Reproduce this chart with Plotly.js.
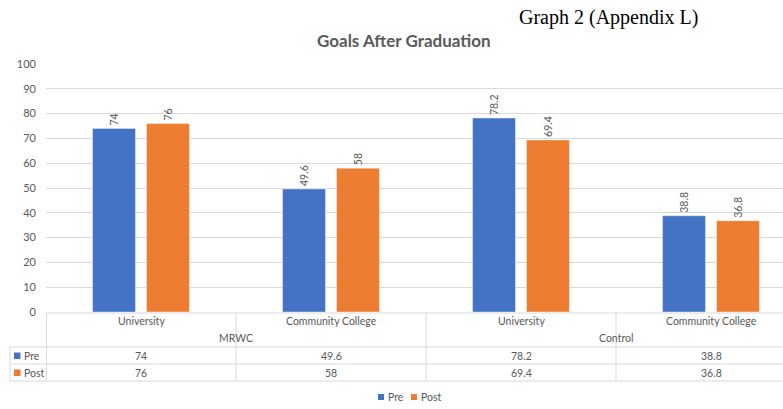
<!DOCTYPE html>
<html>
<head>
<meta charset="utf-8">
<script src="https://cdn.plot.ly/plotly-3.0.1.min.js"></script>
<style>html,body{margin:0;padding:0;background:#fff;}#chart{width:783px;height:409px;}</style>
</head>
<body>
<div id="chart"></div>
<script>
const categories = ["University", "Community College", "University", "Community College"];
const groups = ["MRWC", "Control"];
const preValues = [74, 49.6, 78.2, 38.8];
const postValues = [76, 58, 69.4, 36.8];
const seriesNames = ["Pre", "Post"];
const yTicks = [0, 10, 20, 30, 40, 50, 60, 70, 80, 90, 100];

const BLUE = "#4472c4", ORANGE = "#ed7d31", GREY = "#595959", LINE = "#d9d9d9";
const FONT = "Lato, 'Open Sans', sans-serif";
const COLORS = [BLUE, ORANGE];
const idx = categories.map((c, i) => i);

// pixel helpers (plot area: x 46..783, y 64..312)
const L = 46, W = 737;
const py = p => (312 - p) / 248;
const px = p => (p - L) / W;

const traces = [preValues, postValues].map((vals, k) => ({
  type: "bar", name: seriesNames[k], x: idx, y: vals,
  marker: {color: COLORS[k], line: {color: "rgba(255,255,255,0.5)", width: 0.8}},
  text: vals.map(String), textposition: "outside", textangle: -90,
  outsidetextfont: {family: FONT, size: 10.5, color: GREY}, cliponaxis: false, showlegend: false
}));

const annotations = [];
const shapes = [];
const cellFont = {family: FONT, size: 10.5, color: GREY};

// category row
categories.forEach((c, i) => annotations.push({xref: "x", yref: "paper", x: i, y: py(321), text: c,
  showarrow: false, font: cellFont, xanchor: "center", yanchor: "middle"}));
// group row
groups.forEach((g, j) => annotations.push({xref: "x", yref: "paper", x: j * 2 + 0.5, y: py(338), text: g,
  showarrow: false, font: cellFont, xanchor: "center", yanchor: "middle"}));
// value rows
[preValues, postValues].forEach((vals, r) => {
  const yy = r === 0 ? py(355.5) : py(372.5);
  vals.forEach((v, i) => annotations.push({xref: "x", yref: "paper", x: i, y: yy, text: String(v),
    showarrow: false, font: cellFont, xanchor: "center", yanchor: "middle"}));
  annotations.push({xref: "paper", yref: "paper", x: px(22), y: yy, text: seriesNames[r],
    showarrow: false, font: cellFont, xanchor: "left", yanchor: "middle"});
  shapes.push({type: "rect", xref: "paper", yref: "paper", x0: px(14), x1: px(20.5),
    y0: yy - 3.5 / 248, y1: yy + 3 / 248, fillcolor: COLORS[r], line: {width: 0}});
});

// table lines
const hl = (p, x0, x1) => shapes.push({type: "line", xref: "paper", yref: "paper", x0: px(x0), x1: px(x1),
  y0: py(p), y1: py(p), line: {color: LINE, width: 1}});
hl(313, 46, 783); hl(347, 10, 783); hl(364, 10, 783); hl(381, 10, 783);
shapes.push({type: "line", xref: "paper", yref: "paper", x0: px(10), x1: px(10), y0: py(347), y1: py(381), line: {color: LINE, width: 1}});
shapes.push({type: "line", xref: "paper", yref: "paper", x0: px(46.5), x1: px(46.5), y0: py(313), y1: py(381), line: {color: LINE, width: 1}});
[0.5, 1.5, 2.5].forEach(b => shapes.push({type: "line", xref: "x", yref: "paper", x0: b, x1: b,
  y0: py(313), y1: py(381), line: {color: LINE, width: 1}}));

// bottom legend (drawn manually to match compact Excel style)
const legendX = [378, 411];
seriesNames.forEach((n, k) => {
  shapes.push({type: "rect", xref: "paper", yref: "paper", x0: px(legendX[k]), x1: px(legendX[k] + 6),
    y0: py(400), y1: py(394), fillcolor: COLORS[k], line: {width: 0}});
  annotations.push({xref: "paper", yref: "paper", x: px(legendX[k] + 8), y: py(397), text: n,
    showarrow: false, font: cellFont, xanchor: "left", yanchor: "middle"});
});

// titles
annotations.push({xref: "paper", yref: "paper", x: px(404), y: py(41), text: "<b>Goals After Graduation</b>",
  showarrow: false, font: {family: FONT, size: 17, color: GREY}, xanchor: "center", yanchor: "middle"});
annotations.push({xref: "paper", yref: "paper", x: px(517), y: py(18), text: "Graph 2 (Appendix L)",
  showarrow: false, font: {family: "'Liberation Serif', 'Times New Roman', serif", size: 20, color: "#000"},
  xanchor: "left", yanchor: "middle"});

const layout = {
  width: 783, height: 409,
  margin: {l: L, r: 0, t: 64, b: 97, autoexpand: false},
  paper_bgcolor: "#fff", plot_bgcolor: "#fff",
  font: {family: FONT, color: GREY},
  barmode: "group", bargap: 0.432, bargroupgap: 0.204,
  showlegend: false,
  xaxis: {range: [-0.5, -0.5 + W / 190], showticklabels: false, showgrid: false, zeroline: false, showline: false, ticks: "", fixedrange: true},
  yaxis: {range: [0, 100], tickvals: yTicks, showgrid: true, gridcolor: LINE, gridwidth: 1, zeroline: false,
    showline: false, ticks: "", ticklabelstandoff: 9, tickfont: {family: FONT, size: 11, color: GREY}},
  annotations: annotations, shapes: shapes
};

Plotly.newPlot("chart", traces, layout, {displayModeBar: false, staticPlot: true});
</script>
</body>
</html>
